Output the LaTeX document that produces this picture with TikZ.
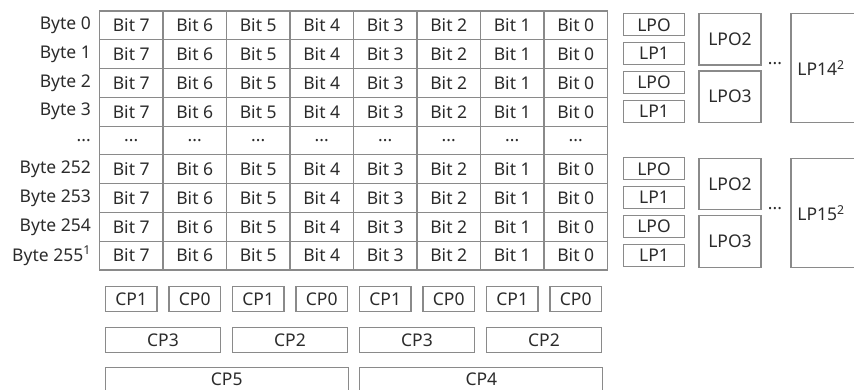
\documentclass[tikz,border=0pt]{standalone}
\usepackage{fontspec}
\setmainfont{Noto Sans}
\definecolor{linegray}{HTML}{8A8A8A}
\definecolor{txtgray}{HTML}{2B2B2B}
\begin{document}
\begin{tikzpicture}[x=1pt,y=-1pt,
  every node/.style={font=\fontsize{17.5}{20}\selectfont, text=txtgray, inner sep=0pt},
  cell/.style={draw=linegray, line width=1.1pt, minimum width=63.5pt, minimum height=28.8pt},
  lbl/.style={anchor=east},
  lpbox/.style={draw=linegray, line width=1.1pt, minimum width=61pt, minimum height=22pt},
  lpbig/.style={draw=linegray, line width=1.1pt, minimum width=62pt, minimum height=51.5pt},
  cpbox/.style={draw=linegray, line width=1.1pt, minimum height=25.5pt},
  framebox/.style={draw=linegray, line width=1.1pt}
]
\useasboundingbox (0,0) rectangle (854,389);
% grid rows
\foreach \r/\lab in {0/Byte 0,1/Byte 1,2/Byte 2,3/Byte 3,5/Byte 252,6/Byte 253,7/Byte 254,8/Byte 255\textsuperscript{1}} {
  \node[lbl] (L\r) at (91,{11+28.78*(\r+0.5)}) {\lab};
  \foreach \c/\b in {0/7,1/6,2/5,3/4,4/3,5/2,6/1,7/0} {
    \node[cell] (c\r-\c) at ({99.5+63.5*(\c+0.5)},{11+28.78*(\r+0.5)}) {Bit \b};
  }
}
\node[lbl] (L4) at (91,{11+28.78*4.5}) {...};
\foreach \c in {0,...,7} {
  \node[cell] (c4-\c) at ({99.5+63.5*(\c+0.5)},{11+28.78*4.5}) {...};
}
% LP small boxes
\foreach \r/\t in {0/LPO,1/LP1,2/LPO,3/LP1,5/LPO,6/LP1,7/LPO,8/LP1} {
  \node[lpbox] (lp\r) at (654,{11+28.78*(\r+0.5)-0.5}) {\t};
}
\node[lpbig] (lpoA) at (730,39.2) {LPO2};
\node[lpbig] (lpoB) at (730,96.7) {LPO3};
\node[lpbig] (lpoC) at (730,183.8) {LPO2};
\node[lpbig] (lpoD) at (730,241.6) {LPO3};
\node (dotsA) at (775,64) {...};
\node (dotsB) at (775,209) {...};
\node (lp14) at (821,67.8) {LP14\textsuperscript{2}};
\node (lp15) at (821,212.8) {LP15\textsuperscript{2}};
% CP boxes
\foreach \c/\t in {0/CP1,1/CP0,2/CP1,3/CP0,4/CP1,5/CP0,6/CP1,7/CP0} {
  \node[cpbox, minimum width=51.5pt] (cpa\c) at ({99.5+63.5*(\c+0.5)},298.8) {\t};
}
\foreach \c/\t in {0/CP3,1/CP2,2/CP3,3/CP2} {
  \node[cpbox, minimum width=115pt, minimum height=25pt] (cpb\c) at ({99.5+127*(\c+0.5)},339.8) {\t};
}
\node (cpc0) at (226.7,379.5) {CP5};
\node (cpc1) at (481.4,379.5) {CP4};
% frames running off the picture's edges
\begin{scope}
\clip (0,0) rectangle (854,389);
\draw[framebox] (791,13.3) rectangle (858,122.3);
\draw[framebox] (791,158.3) rectangle (858,267.3);
\draw[framebox] (105.2,367.7) rectangle (348.2,395);
\draw[framebox] (359.9,367.7) rectangle (602.9,395);
\end{scope}
\end{tikzpicture}
\end{document}
